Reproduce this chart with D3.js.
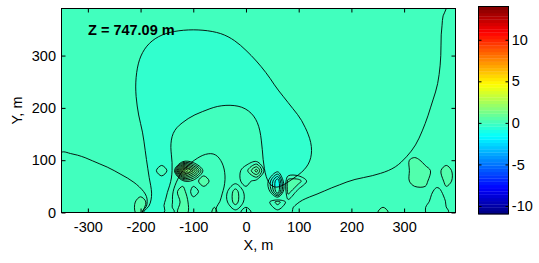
<!DOCTYPE html>
<html lang="en">
<head>
<meta charset="utf-8">
<title>Z = 747.09 m</title>
<script src="https://cdn.jsdelivr.net/npm/d3@7"></script>
<style>
  body { margin: 0; background: #fff; }
  text { font-family: 'Liberation Sans', Arial, sans-serif; }
</style>
</head>
<body>
<script>
    // field sampled on a 20 m grid: x = -360 .. 400, y = 400 (top row) .. 0
    var gridX0 = -360, gridY0 = 400, gridStep = 20;

    // value of each symbol used in the grid rows
    var symbolValue = {
        "x": -1.0, "-": -0.1, ".": 0.1, "+": 0.3,
        "o": 0.5, "O": 0.9, "*": 1.4, "#": 2.2
    };

    // '|' only separates groups of ten columns
    var gridRows = [
        "..........|..........|..........|.......++",
        "..........|..........|..........|.......++",
        "..........|..........|..........|.......++",
        "..........|-------...|..........|.......++",
        ".........-|--------..|..........|.......++",
        "........--|---------.|..........|.......++",
        "........--|----------|..........|.......++",
        "........--|----------|-.........|.......++",
        "........--|----------|-.........|.......++",
        "........--|----------|--........|......+++",
        "........--|-----....-|---.......|......+++",
        "........--|---.......|----......|......+++",
        ".........-|-.........|----......|.....++++",
        ".........-|-.........|-----.....|.....++++",
        "+........-|-....+....|-----.....|.....++++",
        "++++.....-|--..++....|-----.....|...+o++++",
        "++++++...-|.-#*+++.+O|-----.....|...+oo+o+",
        "++++++++.-|--++o++.+.|-xoo....++|++++oo.o+",
        "+++++++++.|-+o.++.o..|.xo...++++|++++++.++",
        "++++++++o+|-.o+++.o..|.o.+++++++|++++++..+",
        "++++++++o-|.+o+.o..+.|..++++++++|+o++++.++"
    ];

    var xTicks = [-300, -200, -100, 0, 100, 200, 300];
    var yTicks = [0, 100, 200, 300];
    var cbarTicks = [-10, -5, 0, 5, 10];
    var xDomain = [-350, 397.5];
    var yDomain = [0, 390];
    var cDomain = [-10.96, 14.0];
    var levelStep = 0.2, colorBin = 0.4;
    var levels = d3.range(-54, 71).map(function (k) { return +(k * levelStep).toFixed(2); });

    var W = 539, H = 263;
    var plot = { left: 61.5, right: 455.5, top: 8.5, bottom: 212.5 };
    var cbar = { left: 478.5, right: 508.5, top: 6.5, bottom: 214 };

    function clamp(v) { return Math.max(0, Math.min(1, v)); }
    function jet(t) {
        var r = clamp(Math.min(4 * t - 1.5, -4 * t + 4.5));
        var g = clamp(Math.min(4 * t - 0.5, -4 * t + 3.5));
        var b = clamp(Math.min(4 * t + 0.5, -4 * t + 2.5));
        return d3.rgb(r * 255, g * 255, b * 255).toString();
    }
    // the colour map is stepped, so neighbouring fine levels can share a colour
    function colorOf(v) {
        var q = Math.floor(v / colorBin + 1e-6) * colorBin;
        return jet((q - cDomain[0]) / (cDomain[1] - cDomain[0]));
    }

    var x = d3.scaleLinear().domain(xDomain).range([plot.left, plot.right]);
    var y = d3.scaleLinear().domain(yDomain).range([plot.bottom, plot.top]);

    var svg = d3.select("body").append("svg")
        .attr("width", W)
        .attr("height", H);

    /* CONTOURS */

    var rows = gridRows.map(function (r) { return r.replace(/\|/g, ""); });
    var nx = rows[0].length, ny = rows.length;
    var values = [];
    rows.forEach(function (r) {
        for (var i = 0; i < nx; i++) values.push(symbolValue[r.charAt(i)]);
    });

    var contours = d3.contours().size([nx, ny]).thresholds(levels)(values);

    function gx(g) { return x(gridX0 + (g - 0.5) * gridStep); }
    function gy(g) { return y(gridY0 - (g - 0.5) * gridStep); }

    // soften the grid staircase of long rings, points on the grid border stay put
    function smoothRing(pts) {
        var n = pts.length;
        if (n < 12) return pts;
        var fixed = pts.map(function (p) {
            return p[0] === 0 || p[0] === nx || p[1] === 0 || p[1] === ny;
        });
        var cur = pts;
        for (var it = 0; it < 2; it++) {
            cur = cur.map(function (p, k) {
                if (fixed[k]) return p;
                var sx = 0, sy = 0;
                for (var d = -2; d <= 2; d++) {
                    var q = cur[(k + d + n) % n];
                    sx += q[0]; sy += q[1];
                }
                return [sx / 5, sy / 5];
            });
        }
        return cur;
    }

    var ringLine = d3.line()
        .x(function (p) { return gx(p[0]); })
        .y(function (p) { return gy(p[1]); })
        .curve(d3.curveCatmullRomClosed.alpha(0.5));

    function contourPath(c) {
        return c.coordinates.map(function (poly) {
            return poly.map(function (ring) {
                return ringLine(smoothRing(ring.slice(0, -1)));
            }).join("");
        }).join("");
    }

    svg.append("clipPath").attr("id", "plotclip")
        .append("rect")
        .attr("x", plot.left).attr("y", plot.top)
        .attr("width", plot.right - plot.left).attr("height", plot.bottom - plot.top);

    var field = svg.append("g").attr("clip-path", "url(#plotclip)");

    field.append("rect")
        .attr("x", plot.left).attr("y", plot.top)
        .attr("width", plot.right - plot.left).attr("height", plot.bottom - plot.top)
        .attr("fill", colorOf(levels[0]));

    field.append("g").selectAll("path")
        .data(contours)
        .enter().append("path")
        .attr("d", contourPath)
        .attr("fill", function (c) { return colorOf(c.value); })
        .attr("fill-rule", "evenodd");

    field.append("g").selectAll("path")
        .data(contours.slice(1))
        .enter().append("path")
        .attr("d", contourPath)
        .attr("fill", "none")
        .attr("stroke", "#000")
        .attr("stroke-width", 0.9);

    /* AXES */

    function styleAxis(g) {
        g.attr("font-size", 14.5).attr("font-family", "'Liberation Sans', Arial, sans-serif");
        g.select(".domain").remove();
    }
    var fmt = function (d) { return String(d); };

    svg.append("g").attr("transform", "translate(0," + plot.bottom + ")")
        .call(d3.axisBottom(x).tickValues(xTicks).tickFormat(fmt)
            .tickSizeInner(-4).tickSizeOuter(0).tickPadding(9))
        .call(styleAxis);
    svg.append("g").attr("transform", "translate(0," + plot.top + ")")
        .call(d3.axisTop(x).tickValues(xTicks).tickFormat("")
            .tickSizeInner(-4).tickSizeOuter(0))
        .call(styleAxis);
    svg.append("g").attr("transform", "translate(" + plot.left + ",0)")
        .call(d3.axisLeft(y).tickValues(yTicks).tickFormat(fmt)
            .tickSizeInner(-4).tickSizeOuter(0).tickPadding(5.5))
        .call(styleAxis);
    svg.append("g").attr("transform", "translate(" + plot.right + ",0)")
        .call(d3.axisRight(y).tickValues(yTicks).tickFormat("")
            .tickSizeInner(-4).tickSizeOuter(0))
        .call(styleAxis);

    svg.append("rect")
        .attr("x", plot.left).attr("y", plot.top)
        .attr("width", plot.right - plot.left).attr("height", plot.bottom - plot.top)
        .attr("fill", "none").attr("stroke", "#000").attr("stroke-width", 1);

    svg.append("text")
        .text("X, m")
        .attr("x", (plot.left + plot.right) / 2)
        .attr("y", 250)
        .attr("text-anchor", "middle")
        .attr("font-size", 14.5);

    svg.append("text")
        .text("Y, m")
        .attr("transform", "translate(22," + (plot.top + plot.bottom) / 2 + ") rotate(-90)")
        .attr("text-anchor", "middle")
        .attr("font-size", 14.5);

    svg.append("text")
        .text("Z = 747.09 m")
        .attr("x", 88)
        .attr("y", 35)
        .attr("font-size", 14.5)
        .attr("font-weight", "bold");

    /* COLORBAR */

    var c = d3.scaleLinear().domain(cDomain).range([cbar.bottom, cbar.top]);
    var nColors = 64;
    var steps = d3.range(nColors);
    var stepH = (cbar.bottom - cbar.top) / nColors;

    svg.append("g").selectAll("rect")
        .data(steps)
        .enter().append("rect")
        .attr("x", cbar.left)
        .attr("y", function (k) { return cbar.bottom - (k + 1) * stepH; })
        .attr("width", cbar.right - cbar.left)
        .attr("height", stepH + 0.3)
        .attr("fill", function (k) { return jet((k + 0.5) / nColors); });

    svg.append("g").attr("transform", "translate(" + cbar.right + ",0)")
        .call(d3.axisRight(c).tickValues(cbarTicks).tickFormat(fmt)
            .tickSizeInner(-3).tickSizeOuter(0).tickPadding(3.3))
        .call(styleAxis);
    svg.append("g").attr("transform", "translate(" + cbar.left + ",0)")
        .call(d3.axisLeft(c).tickValues(cbarTicks).tickFormat("")
            .tickSizeInner(-3).tickSizeOuter(0))
        .call(styleAxis);

    svg.append("rect")
        .attr("x", cbar.left).attr("y", cbar.top)
        .attr("width", cbar.right - cbar.left).attr("height", cbar.bottom - cbar.top)
        .attr("fill", "none").attr("stroke", "#000").attr("stroke-width", 1);
</script>
</body>
</html>
